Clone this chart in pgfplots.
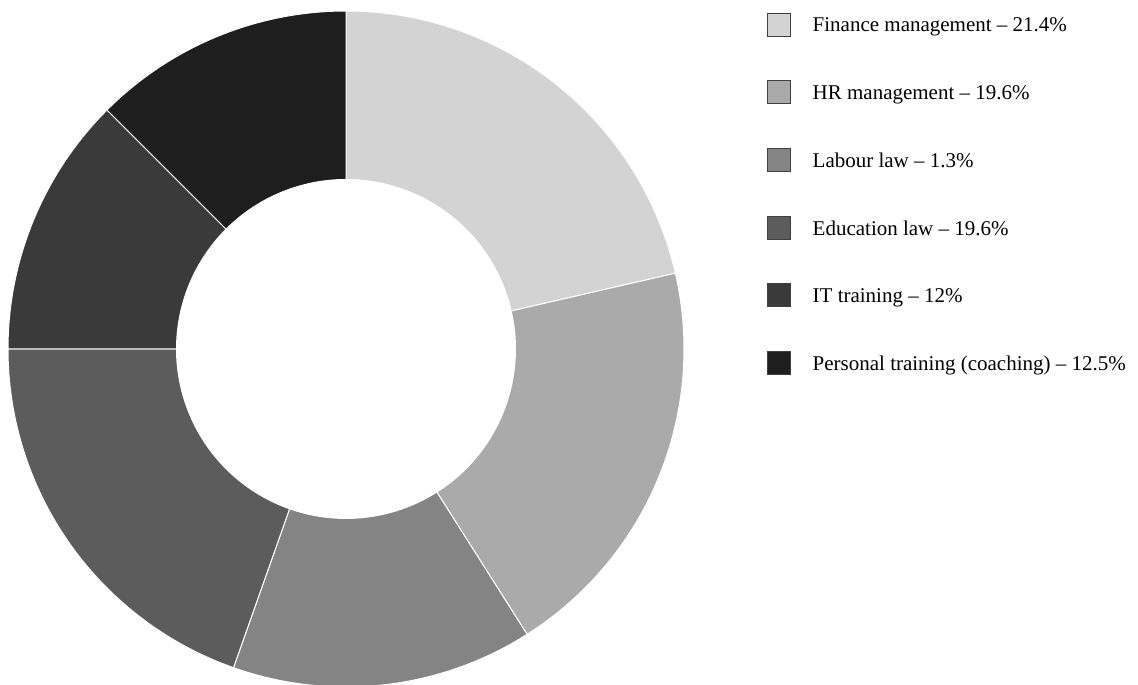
\documentclass[border=0pt]{standalone}
\usepackage{pgfplots}
\pgfplotsset{compat=1.18}
\usepackage{fontspec}
\setmainfont{Liberation Serif}
\definecolor{c1}{RGB}{211,211,211}
\definecolor{c2}{RGB}{170,170,170}
\definecolor{c3}{RGB}{132,132,132}
\definecolor{c4}{RGB}{92,92,92}
\definecolor{c5}{RGB}{58,58,58}
\definecolor{c6}{RGB}{30,30,30}
% drawn shares (percent) of the six slices
\pgfmathsetmacro\aA{0}
\pgfmathsetmacro\aB{\aA+21.4*3.6}
\pgfmathsetmacro\aC{\aB+19.6*3.6}
\pgfmathsetmacro\aD{\aC+14.4*3.6}
\pgfmathsetmacro\aE{\aD+19.6*3.6}
\pgfmathsetmacro\aF{\aE+12.5*3.6}
\pgfmathsetmacro\aG{\aF+12.5*3.6}
\begin{document}
\begin{tikzpicture}
\begin{axis}[
  scale only axis, width=1138pt, height=685pt,
  xmin=-346, xmax=792, ymin=-336, ymax=349,
  hide axis,
  legend image code/.code={\draw[#1] (0pt,-10.5pt) rectangle (23pt,12.5pt);},
  legend cell align=left,
  legend style={draw=none, fill=none, at={(axis cs:421,336.5)}, anchor=north west,
    inner sep=0pt, row sep=43.9pt, column sep=21.7pt,
    nodes={inner sep=0pt},
    font=\fontsize{21pt}{25pt}\selectfont},
]
\addplot[fill=c1, draw=white, line width=1pt, domain=\aA:\aB, samples=120, forget plot] ({338*sin(x)},{338*cos(x)}) -- (axis cs:0,0) -- cycle;
\addplot[fill=c2, draw=white, line width=1pt, domain=\aB:\aC, samples=120, forget plot] ({338*sin(x)},{338*cos(x)}) -- (axis cs:0,0) -- cycle;
\addplot[fill=c3, draw=white, line width=1pt, domain=\aC:\aD, samples=120, forget plot] ({338*sin(x)},{338*cos(x)}) -- (axis cs:0,0) -- cycle;
\addplot[fill=c4, draw=white, line width=1pt, domain=\aD:\aE, samples=120, forget plot] ({338*sin(x)},{338*cos(x)}) -- (axis cs:0,0) -- cycle;
\addplot[fill=c5, draw=white, line width=1pt, domain=\aE:\aF, samples=120, forget plot] ({338*sin(x)},{338*cos(x)}) -- (axis cs:0,0) -- cycle;
\addplot[fill=c6, draw=white, line width=1pt, domain=\aF:\aG, samples=120, forget plot] ({338*sin(x)},{338*cos(x)}) -- (axis cs:0,0) -- cycle;
\addplot[fill=white, draw=none, domain=0:360, samples=240, forget plot] ({170*sin(x)},{170*cos(x)}) -- cycle;
\addlegendimage{fill=c1, draw=black!75, line width=0.8pt}
\addlegendentry{Finance management – 21.4\%}
\addlegendimage{fill=c2, draw=black!75, line width=0.8pt}
\addlegendentry{HR management – 19.6\%}
\addlegendimage{fill=c3, draw=black!75, line width=0.8pt}
\addlegendentry{Labour law – 1.3\%}
\addlegendimage{fill=c4, draw=black!75, line width=0.8pt}
\addlegendentry{Education law – 19.6\%}
\addlegendimage{fill=c5, draw=black!75, line width=0.8pt}
\addlegendentry{IT training – 12\%}
\addlegendimage{fill=c6, draw=black!75, line width=0.8pt}
\addlegendentry{Personal training (coaching) – 12.5\%}
\end{axis}
\path (current axis.south west) rectangle (current axis.north east);
\end{tikzpicture}
\end{document}
